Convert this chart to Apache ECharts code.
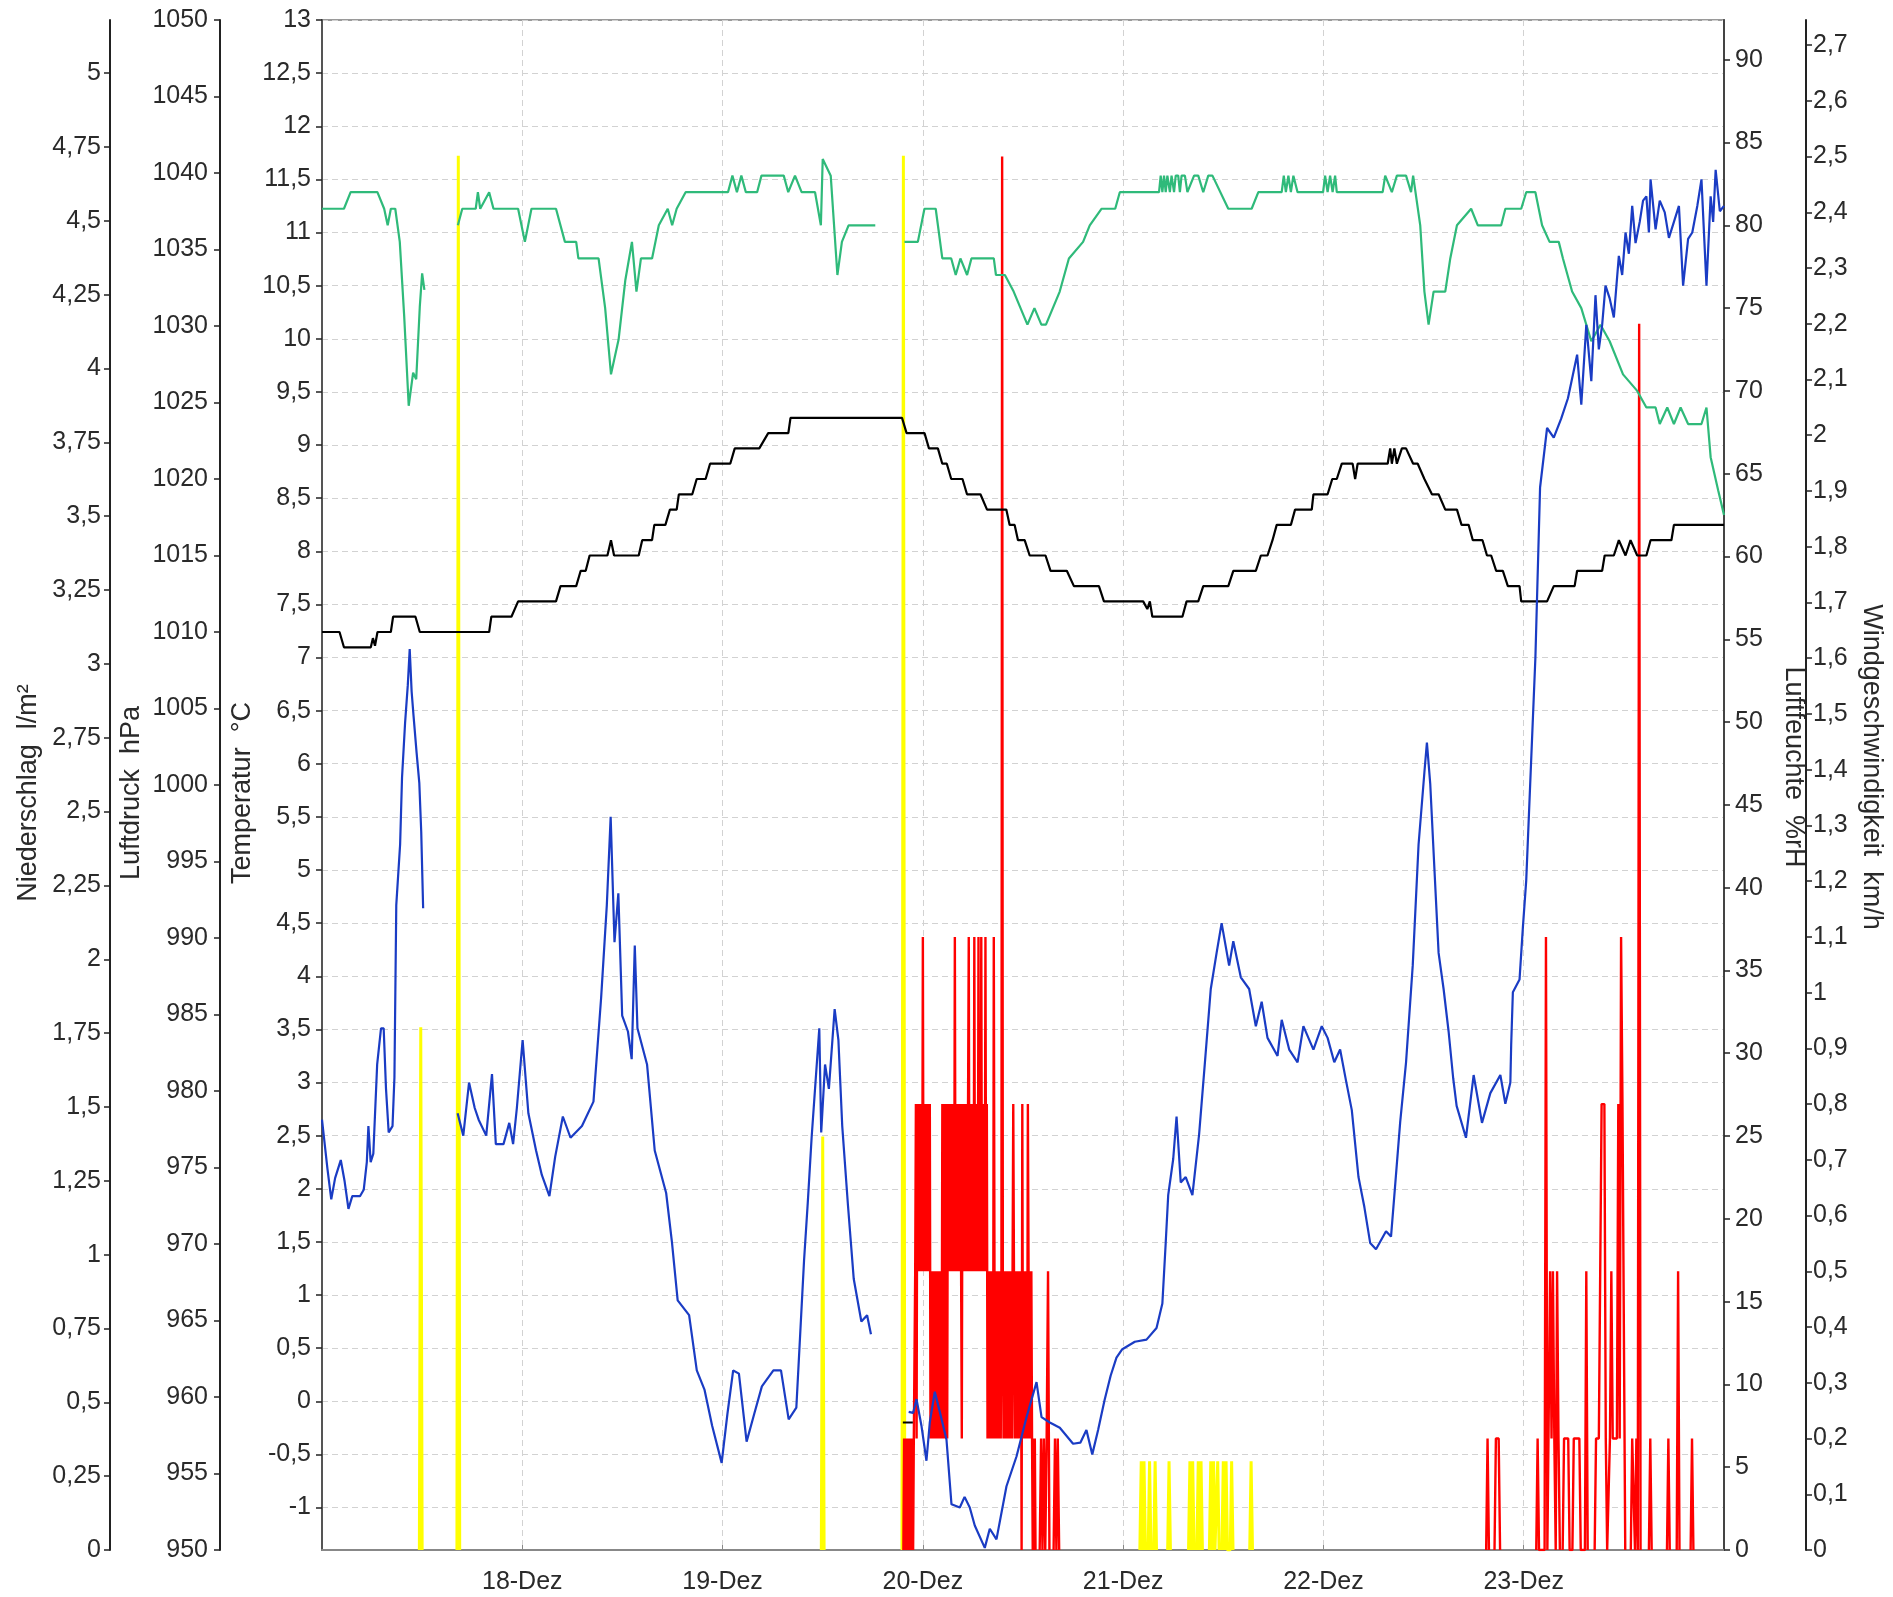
<!DOCTYPE html>
<html><head><meta charset="utf-8">
<script src="https://cdn.jsdelivr.net/npm/echarts@6/dist/echarts.min.js"></script>
<style>html,body{margin:0;padding:0;background:#fff}#c{width:1893px;height:1597px}</style>
</head><body><div id="c"></div>
<script>
// x positions are hours since 17-Dez 00:00
const SLOT_H = 1 / 6; // 10-minute slot in hours
const FIRST_DAY = 17;

// tick labels
const tempTicks = [-1,-0.5,0,0.5,1,1.5,2,2.5,3,3.5,4,4.5,5,5.5,6,6.5,7,7.5,8,8.5,9,9.5,10,10.5,11,11.5,12,12.5,13];
const pressTicks = [950,955,960,965,970,975,980,985,990,995,1000,1005,1010,1015,1020,1025,1030,1035,1040,1045,1050];
const rainTicks = [0,0.25,0.5,0.75,1,1.25,1.5,1.75,2,2.25,2.5,2.75,3,3.25,3.5,3.75,4,4.25,4.5,4.75,5];
const humTicks = [0,5,10,15,20,25,30,35,40,45,50,55,60,65,70,75,80,85,90];
const windTicks = [0,0.1,0.2,0.3,0.4,0.5,0.6,0.7,0.8,0.9,1,1.1,1.2,1.3,1.4,1.5,1.6,1.7,1.8,1.9,2,2.1,2.2,2.3,2.4,2.5,2.6,2.7];

// Temperatur [hours, °C]
const temperatur = [
[0,2.65],[0.65,2.19],[1.11,1.9],[1.57,2.1],[2.25,2.27],[2.71,2.07],[3.17,1.81],[3.63,1.93],[4.55,1.93],[5.0,1.99],[5.37,2.25],[5.56,2.59],[5.83,2.25],[6.15,2.33],[6.61,3.17],[7.07,3.51],[7.39,3.51],[7.67,2.94],[7.99,2.53],[8.45,2.59],[8.68,3.05],[8.9,4.67],[9.36,5.24],[9.59,5.87],[9.96,6.39],[10.28,6.74],[10.51,7.08],[10.74,6.68],[10.97,6.45],[11.34,6.1],[11.66,5.82],[11.89,5.36],[12.12,4.64],
[14,null],
[16.25,2.71],[16.93,2.5],[17.62,3.0],[18.3,2.76],[18.77,2.65],[19.68,2.5],[20.37,3.08],[20.83,2.42],[21.75,2.42],[22.44,2.62],[22.9,2.42],[23.35,2.76],[24.04,3.4],[24.73,2.71],[25.65,2.36],[26.34,2.13],[27.25,1.93],[27.94,2.3],[28.86,2.68],[29.78,2.48],[31.15,2.59],[32.53,2.82],[33.45,3.8],[34.13,4.67],[34.59,5.5],[35.05,4.32],[35.51,4.78],[35.97,3.63],[36.66,3.48],[37.11,3.22],[37.48,4.29],[37.8,3.51],[38.95,3.17],[39.87,2.36],[41.24,1.96],[41.93,1.5],[42.62,0.95],[43.99,0.81],[44.91,0.29],[45.83,0.11],[46.75,-0.23],[47.89,-0.58],[48.58,-0.12],[49.27,0.29],[49.96,0.26],[50.88,-0.38],[51.79,-0.12],[52.71,0.14],[54.09,0.29],[55.0,0.29],[55.92,-0.17],[56.84,-0.06],[57.76,1.32],[58.21,1.87],[58.67,2.48],[59.59,3.51],[59.82,2.53],[60.28,3.17],[60.74,2.94],[61.43,3.69],[61.88,3.4],[62.34,2.59],[63.03,1.84],[63.72,1.15],[64.63,0.75],[65.32,0.81],[65.78,0.63],
[68,null],
[70.3,-0.1],[70.83,-0.11],[71.24,0.02],[71.83,-0.23],[72.43,-0.56],[72.83,-0.2],[73.43,0.09],[74.03,-0.1],[74.83,-0.36],[75.43,-0.97],[76.43,-1.0],[77.0,-0.9],[77.62,-1.0],[78.22,-1.17],[79.42,-1.38],[80.02,-1.2],[80.82,-1.3],[82.02,-0.8],[83.22,-0.52],[84.42,-0.15],[85.62,0.18],[86.22,-0.15],[87.21,-0.2],[88.41,-0.25],[90.0,-0.4],[90.87,-0.39],[91.6,-0.27],[92.3,-0.5],[93.0,-0.27],[93.77,0.01],[94.5,0.24],[95.2,0.41],[95.9,0.49],[97.4,0.56],[98.8,0.58],[100.0,0.69],[100.7,0.92],[101.1,1.49],[101.4,1.94],[102.0,2.28],[102.4,2.68],[102.9,2.06],[103.5,2.11],[104.3,1.94],[105.1,2.51],[105.8,3.19],[106.5,3.88],[107.2,4.22],[107.8,4.5],[108.7,4.1],[109.2,4.33],[110.1,3.99],[111.1,3.88],[111.9,3.53],[112.6,3.76],[113.3,3.42],[114.5,3.25],[115.0,3.59],[115.9,3.31],[116.9,3.19],[117.6,3.53],[118.8,3.31],[119.8,3.53],[120.5,3.42],[121.3,3.19],[122.0,3.31],[122.7,3.02],[123.4,2.74],[124.2,2.11],[124.9,1.83],[125.6,1.49],[126.3,1.43],[127.5,1.6],[128.1,1.55],[128.5,1.94],[129.2,2.63],[129.9,3.19],[130.7,4.1],[131.4,5.24],[132.1,5.92],[132.4,6.2],[132.8,5.81],[133.3,5.01],[133.8,4.22],[134.4,3.88],[135.0,3.48],[135.55,3.04],[135.96,2.78],[137.08,2.48],[138.0,3.07],[139.0,2.62],[140.0,2.9],[141.2,3.07],[141.8,2.8],[142.4,3.0],[142.5,3.36],[142.7,3.85],[143.5,3.97],[143.9,4.46],[144.3,4.9],[145.4,7.0],[145.96,8.6],[146.8,9.16],[147.6,9.07],[148.5,9.25],[149.3,9.44],[150.4,9.85],[150.9,9.38],[151.5,10.13],[152.1,9.6],[152.6,10.41],[153.0,9.9],[153.4,10.13],[153.8,10.5],[154.3,10.38],[154.8,10.2],[155.4,10.78],[155.8,10.6],[156.2,11.0],[156.6,10.8],[157.0,11.25],[157.4,10.9],[157.9,11.1],[158.3,11.3],[158.7,11.34],[159.0,11.0],[159.2,11.5],[159.8,11.03],[160.3,11.3],[160.9,11.19],[161.4,10.95],[162.0,11.1],[162.6,11.25],[163.1,10.5],[163.7,10.94],[164.2,11.0],[164.8,11.25],[165.3,11.5],[165.9,10.5],[166.4,11.34],[166.7,11.1],[167.0,11.59],[167.5,11.2],[168.0,11.25]
];

// short black trace on the temperature scale
const tempMarker = [[69.6,-0.2],[70.8,-0.2]];

// Luftfeuchte [hours, %rH]
const luftfeuchte = [
[0,81],[2.63,81],[3.43,82],[6.64,82],[7.45,81],[7.87,80],[8.25,81],[8.78,81],[9.32,79],[9.85,74.5],[10.39,69.1],[10.92,71.1],[11.29,70.7],[11.72,75.1],[12.0,77.1],[12.27,76.1],
[14,null],
[16.28,80],[16.81,81],[18.42,81],[18.68,82],[18.96,81],[20.03,82],[20.55,81],[23.5,81],[24.31,79],[25.1,81],[28.04,81],[29.11,79],[30.46,79],[30.72,78],[33.14,78],[33.93,75],[34.63,71],[35.54,73.1],[36.35,76.7],[37.14,79],[37.68,76],[38.22,78],[39.55,78],[40.36,80],[41.43,81],[41.96,80],[42.5,81],[43.57,82],[48.65,82],[49.18,83],[49.72,82],[50.25,83],[50.79,82],[52.14,82],[52.66,83],[55.33,83],[55.87,82],[56.68,83],[57.47,82],[59.08,82],[59.78,80],[60.0,84],[60.96,83],[61.76,77],[62.3,79],[63.1,80],[66.3,80],
[68,null],
[69.79,79],[71.4,79],[72.19,81],[73.54,81],[74.33,78],[75.4,78],[75.94,77],[76.5,78],[77.3,77],[77.82,78],[80.5,78],[80.76,77],[81.83,77],[82.88,76],[84.53,74],[85.37,75],[86.2,74],[86.75,74],[88.4,76],[89.5,78],[91.2,79],[92.0,80],[93.4,81],[95.05,81],[95.6,82],[100.3,82],[100.5,83],[100.7,82],[100.9,83],[101.1,82],[101.3,83],[101.6,82],[101.8,83],[102.1,82],[102.3,83],[102.6,83],[102.8,82],[103.0,83],[103.4,83],[103.7,82],[104.5,83],[105.0,83],[105.6,82],[106.2,83],[106.7,83],[108.6,81],[111.4,81],[112.2,82],[115.0,82],[115.25,83],[115.5,82],[115.8,83],[116.1,82],[116.4,83],[116.9,82],[119.96,82],[120.2,83],[120.5,82],[120.8,83],[121.1,82],[121.4,83],[121.6,82],[121.9,82],[127.1,82],[127.4,83],[128.2,82],[128.8,83],[129.9,83],[130.5,82],[130.75,83],[131.6,80],[132.1,76],[132.6,74],[133.2,76],[134.6,76],[135.2,78],[136.0,80],[137.7,81],[138.5,80],[141.3,80],[141.8,81],[143.7,81],[144.3,82],[145.4,82],[146.2,80],[147.1,79],[148.2,79],[148.7,78],[149.8,76],[150.9,75],[152.1,73],[153.2,74],[154.3,73],[155.9,71],[157.6,70],[158.7,69],[159.8,69],[160.3,68],[161.2,69],[162.0,68],[162.8,69],[163.7,68],[165.3,68],[165.9,69],[166.4,66],[167.3,64],[168.0,62.5]
];

// Luftdruck [hours, hPa]
const luftdruck = [
[0,1010],[2.1,1010],[2.63,1009],[5.85,1009],[6.1,1009.6],[6.35,1009.1],[6.65,1010],[8.25,1010],[8.52,1011],[11.2,1011],[11.72,1010],[20.03,1010],[20.29,1011],[22.7,1011],[23.5,1012],[28.04,1012],[28.58,1013],[30.46,1013],[31.0,1014],[31.6,1014],[32.07,1015],[34.2,1015],[34.63,1016],[35.0,1015],[37.95,1015],[38.37,1016],[39.55,1016],[39.82,1017],[41.15,1017],[41.69,1018],[42.5,1018],[42.76,1019],[44.37,1019],[44.9,1020],[45.97,1020],[46.5,1021],[48.92,1021],[49.46,1022],[52.4,1022],[53.47,1023],[55.88,1023],[56.14,1024],[69.5,1024],[70.05,1023],[72.2,1023],[72.73,1022],[73.8,1022],[74.33,1021],[74.87,1021],[75.4,1020],[76.75,1020],[77.29,1019],[78.9,1019],[79.69,1018],[82.0,1018],[82.4,1017],[83.0,1017],[83.4,1016],[84.2,1016],[84.8,1015],[86.7,1015],[87.3,1014],[89.25,1014],[90.1,1013],[93.1,1013],[93.7,1012],[98.4,1012],[98.9,1011.5],[99.2,1012],[99.5,1011],[103.1,1011],[103.6,1012],[105.0,1012],[105.6,1013],[108.6,1013],[109.2,1014],[111.9,1014],[112.5,1015],[113.3,1015],[113.9,1016],[114.4,1017],[116.1,1017],[116.6,1018],[118.6,1018],[118.8,1019],[120.5,1019],[121.06,1020],[121.6,1020],[122.2,1021],[123.5,1021],[123.8,1020],[124.1,1021],[127.7,1021],[128.0,1022],[128.2,1021],[128.5,1022],[128.8,1021],[129.4,1022],[129.9,1022],[130.75,1021],[131.3,1021],[132.1,1020],[133.0,1019],[133.8,1019],[134.6,1018],[136.0,1018],[136.55,1017],[137.4,1017],[137.9,1016],[139.06,1016],[139.6,1015],[140.1,1015],[140.7,1014],[141.5,1014],[142.1,1013],[143.5,1013],[143.7,1012],[146.8,1012],[147.6,1013],[150.1,1013],[150.4,1014],[153.4,1014],[153.7,1015],[154.8,1015],[155.4,1016],[156.2,1015],[156.8,1016],[157.6,1015],[158.7,1015],[159.2,1016],[161.7,1016],[162.0,1017],[168.0,1017]
];

// Windgeschwindigkeit 20-Dez: 5-minute readings from slot 418 (19-Dez 21:40)
const windAStart = 418;
const windAValues = [
0,0.2,0,0.2,0,0.2,0,0.2,0,0.2,0,0.2,0,0.2,0,0.2,0.2,
0.5,0.8,0.2,0.8,0.5,0.8,0.5,0.8,0.5,0.8,0.5,1.1,0.5,0.8,0.5,0.8,0.5,0.8,0.5,0.8,0.5,0.8,
0.2,0.5,0.2,0.5,0.2,0.5,0.2,0.5,0.2,0.5,0.2,0.5,0.2,0.5,0.2,0.5,
0.2,0.8,0.2,0.8,0.2,0.8,0.2,0.8,0.2,0.8,
0.5,0.8,0.5,0.8,0.5,0.8,0.5,0.8,0.5,1.1,0.5,0.8,0.5,0.8,0.5,0.8,0.5,0.8,0.5,0.2,
0.8,0.5,0.8,0.5,0.8,0.5,0.8,0.5,0.8,1.1,0.5,0.8,0.5,0.8,0.5,0.8,0.5,1.1,0.5,0.8,0.5,0.8,0.5,1.1,0.5,0.8,0.5,1.1,0.5,0.8,0.5,0.8,0.5,1.1,0.5,0.8,
0.2,0.5,0.2,0.5,0.2,0.5,0.2,0.5,0.2,1.1,
0.5,0.2,0.5,0.2,0.5,0.2,0.5,0.2,0.5,0.2,0.5,2.5,
0.5,0.2,0.5,0.2,0.5,0.2,0.5,0.2,0.5,0.2,0.5,0.2,0.5,0.2,0.5,0.8,
0.5,0.2,0.5,0.2,0.5,0.2,0.5,0.2,0.5,0.2,0.5,0,
0.8,0.2,0.5,0.2,0.5,0.2,0.5,0.2,0.8,0.5,0.2,0.5,0.2,0.5,0.2,0,
0.2,0,0.2,0
];
// further wind groups: [10-min slot since 17-Dez 00:00, km/h]
const windB = [[516,0],[517,0.2],[518,0],[519,0.2],[520,0],[521,0.2],[522,0.5],[523,0]];
const windC = [[526,0],[527,0.2],[528,0],[529,0.2],[530,0]];
const windD = [[837,0],[838,0.2],[839,0]];
const windE = [[843,0],[844,0.2],[846,0.2],[847,0]];
const windF = [[873,0],[874,0.2],[875,0],[879,0],[880,1.1],[881,0],[882,0],[883,0.5],[884,0.2],[885,0.5],[886,0.2],[887,0],[888,0.5],[889,0.2],[890,0]];
const windG = [[892,0],[893,0.2],[896,0.2],[897,0],[899,0],[900,0.2],[904,0.2],[905,0],[908,0],[909,0.5],[910,0]];
const windH = [[915,0],[916,0.2],[918,0.2],[919,0.2],[920,0.8],[922,0.8],[923,0.2],[924,0],[925,0],[926,0.2],[927,0.5],[928,0.2],[931,0.2],[932,0.8],[933,0.2],[934,1.1],[935,0.8],[936,0.8],[937,0]];
const windI = [[941,0],[942,0.2],[943,0.2],[944,0],[945,0.2],[946,0],[947,2.2],[948,0]];
const windJ = [[954,0],[955,0.2],[956,0]];
const windK = [[967,0],[968,0.2],[969,0]];
const windL = [[974,0],[975,0.5],[976,0]];
const windM = [[984,0],[985,0.2],[986,0]];

// Niederschlag: groups of [10-min slot, l/m²]
const rainA = [[70,0],[71,1.77],[72,0]];
const rainB = [[97,0],[98,4.72],[99,0]];
const rainC = [[359,0],[360,1.4],[361,0]];
const rainD = [[417,0],[418,4.72],[419,0]];
const rainE = [[588,0],[589,0.3],[590,0],[591,0.3],[592,0]];
const rainF = [[594,0],[595,0.3],[596,0]];
const rainG = [[598,0],[599,0.3],[600,0]];
const rainH = [[608,0],[609,0.3],[610,0]];
const rainI = [[623,0],[624,0.3],[625,0],[626,0.3],[627,0]];
const rainJ = [[629,0],[630,0.3],[631,0],[632,0.3],[633,0]];
const rainK = [[638,0],[639,0.3],[640,0],[641,0.3],[642,0],[643,0],[644,0.3],[645,0]];
const rainL = [[647,0],[648,0.3],[649,0],[650,0.3],[651,0],[653,0],[654,0.3],[655,0]];
const rainM = [[667,0],[668,0.3],[669,0]];

const windA = windAValues.map((v, i) => [windAStart + i * 0.5, v]);

const groupsToData = groups => {
  const out = [];
  groups.forEach((g, i) => {
    if (i > 0) out.push([(g[0][0] - 0.5) * SLOT_H, null]);
    g.forEach(p => out.push([p[0] * SLOT_H, p[1]]));
  });
  return out;
};
const deComma = v => String(v).replace('.', ',');

const FONT = 'Liberation Sans';
const LBL = { color: '#2a2a2a', fontSize: 25, fontFamily: FONT };

function nameStyle(pad) {
  return { color: '#2a2a2a', fontSize: 27, fontFamily: FONT, padding: [0, pad, 0, 0] };
}

function yAxis(opt) {
  return Object.assign({
    type: 'value',
    nameLocation: 'middle',
    nameMoveOverlap: false,
    nameTextStyle: nameStyle(opt.pad),
    axisLine: { show: true, onZero: false, lineStyle: { color: '#222', width: 2 } },
    axisTick: { show: true, length: 6, lineStyle: { color: '#222', width: 1.5 }, customValues: opt.ticks },
    axisLabel: Object.assign({ formatter: deComma, customValues: opt.ticks }, LBL, { margin: opt.margin }),
    splitLine: { show: false }
  }, opt.extra);
}

const chart = echarts.init(document.getElementById('c'), null, { renderer: 'canvas' });

chart.setOption({
  animation: false,
  backgroundColor: '#fff',
  grid: { left: 322, right: 169, top: 20, bottom: 47, show: true, borderColor: '#9a9a9a', borderWidth: 2 },
  xAxis: {
    type: 'value',
    min: 0, max: 168, interval: 24,
    axisLine: { show: true, onZero: false, lineStyle: { color: '#888', width: 2 } },
    axisTick: { show: true, inside: true, length: 5, lineStyle: { color: '#888' } },
    axisLabel: Object.assign({
      margin: 20, showMinLabel: false, showMaxLabel: false,
      formatter: v => (FIRST_DAY + Math.round(v / 24)) + '-Dez'
    }, LBL),
    splitLine: { show: true, lineStyle: { color: '#d2d2d2', width: 1, type: [6, 4] } }
  },
  yAxis: [
    yAxis({ ticks: tempTicks, margin: 11, pad: 16, extra: {
      position: 'left', offset: 0, min: -1.4, max: 13, name: 'Temperatur  °C', nameGap: 66, nameRotate: 90,
      axisLine: { show: true, onZero: false, lineStyle: { color: '#555', width: 2 } },
      splitLine: { show: true, lineStyle: { color: '#d2d2d2', width: 1, type: [6, 4] } } } }),
    yAxis({ ticks: pressTicks, margin: 12, pad: 16, extra: {
      position: 'left', offset: 102, min: 950, max: 1050, name: 'Luftdruck  hPa', nameGap: 75, nameRotate: 90 } }),
    yAxis({ ticks: rainTicks, margin: 9, pad: 16, extra: {
      position: 'left', offset: 212, min: 0, max: 5.18, name: 'Niederschlag  l/m²', nameGap: 68, nameRotate: 90 } }),
    yAxis({ ticks: humTicks, margin: 11, pad: 36, extra: {
      position: 'right', offset: 0, min: 0, max: 92.4, name: 'Luftfeuchte  %rH', nameGap: 56, nameRotate: -90,
      axisLine: { show: true, onZero: false, lineStyle: { color: '#444', width: 2 } } } }),
    yAxis({ ticks: windTicks, margin: 7, pad: 36, extra: {
      position: 'right', offset: 82, min: 0, max: 2.745, name: 'Windgeschwindigkeit  km/h', nameGap: 52, nameRotate: -90 } })
  ],
  series: [
    { name: 'Niederschlag', type: 'line', yAxisIndex: 2, symbol: 'none', connectNulls: false,
      lineStyle: { color: '#ffff00', width: 3 }, itemStyle: { color: '#ffff00' },
      data: groupsToData([rainA, rainB, rainC, rainD, rainE, rainF, rainG, rainH, rainI, rainJ, rainK, rainL, rainM]) },
    { name: 'Windgeschwindigkeit', type: 'line', yAxisIndex: 4, symbol: 'none', connectNulls: false,
      lineStyle: { color: '#ff0000', width: 2.4 }, itemStyle: { color: '#ff0000' },
      data: groupsToData([windA, windB, windC, windD, windE, windF, windG, windH, windI, windJ, windK, windL, windM]) },
    { name: 'Luftdruck', type: 'line', yAxisIndex: 1, symbol: 'none', connectNulls: false,
      lineStyle: { color: '#000', width: 2.2 }, itemStyle: { color: '#000' },
      data: luftdruck },
    { name: 'Marker', type: 'line', yAxisIndex: 0, symbol: 'none',
      lineStyle: { color: '#000', width: 2 }, data: tempMarker },
    { name: 'Luftfeuchte', type: 'line', yAxisIndex: 3, symbol: 'none', connectNulls: false,
      lineStyle: { color: '#2fba7a', width: 2.2 }, itemStyle: { color: '#2fba7a' },
      data: luftfeuchte },
    { name: 'Temperatur', type: 'line', yAxisIndex: 0, symbol: 'none', connectNulls: false,
      lineStyle: { color: '#1a3cc4', width: 2.2 }, itemStyle: { color: '#1a3cc4' },
      data: temperatur }
  ]
});
</script>
</body></html>
